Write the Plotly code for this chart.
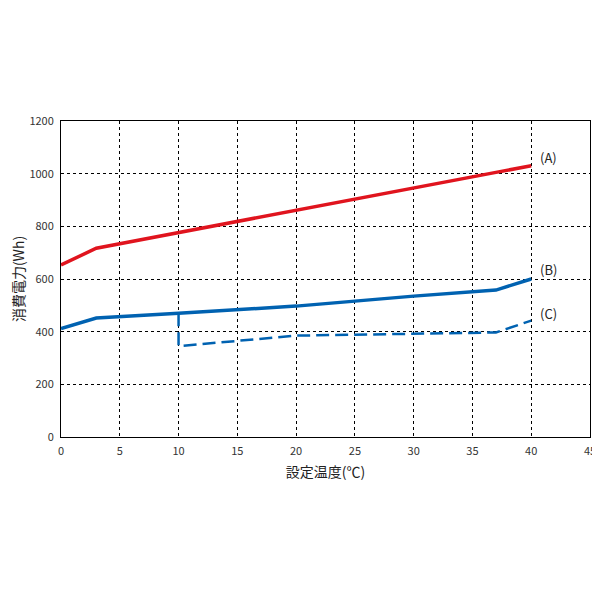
import plotly.graph_objects as go

# 設定温度 (℃) と 消費電力 (Wh)
a_temp = [0, 3, 37, 40]
a_power = [653, 717, 1005, 1030]

b_temp = [0, 3, 10, 20, 30, 37, 40]
b_power = [412, 452, 470, 497, 535, 558, 600]

c_temp = [10, 10, 20, 37, 40]
c_power = [470, 345, 385, 397, 442]

labels = ["(A)", "(B)", "(C)"]
label_y = [1063, 637, 470]

red = "#e0141e"
blue = "#0062b1"
font = "Noto Sans CJK JP"

fig = go.Figure()
fig.add_trace(go.Scatter(x=a_temp, y=a_power, mode="lines",
                         line=dict(color=red, width=3.5)))
fig.add_trace(go.Scatter(x=b_temp, y=b_power, mode="lines",
                         line=dict(color=blue, width=3.5)))
fig.add_trace(go.Scatter(x=c_temp, y=c_power, mode="lines",
                         line=dict(color=blue, width=2.5, dash="13px,6px")))

for txt, yy in zip(labels, label_y):
    fig.add_annotation(x=40.6, y=yy, text=txt, showarrow=False,
                       xanchor="left", yanchor="middle",
                       font=dict(family=font, size=13, color="#222"))

axis_common = dict(
    showline=True, linecolor="black", linewidth=1, mirror=True,
    showgrid=True, gridcolor="black", gridwidth=1, griddash="dot",
    zeroline=False, ticks="", ticklabelstandoff=4,
    tickfont=dict(family=font, size=11, color="#333"),
)

fig.update_layout(
    width=600, height=600,
    margin=dict(l=53, r=16, t=113, b=171),
    paper_bgcolor="white", plot_bgcolor="white",
    showlegend=False,
    font=dict(family=font),
    xaxis=dict(range=[0, 45], dtick=5,
               title=dict(text="設定温度(℃)", font=dict(size=14, color="#222"), standoff=9),
               **axis_common),
    yaxis=dict(range=[0, 1200], dtick=200, automargin=False,
               title=dict(text="消費電力(Wh)", font=dict(size=14, color="#222"), standoff=9),
               **axis_common),
)

fig.write_html("out.html")
